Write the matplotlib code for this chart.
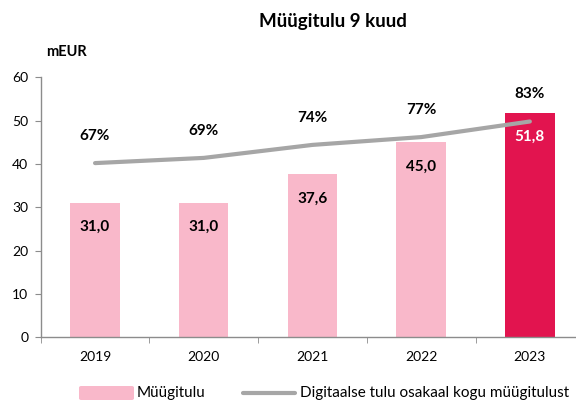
import matplotlib
matplotlib.use("Agg")
import matplotlib.pyplot as plt
from matplotlib.patches import FancyBboxPatch
from matplotlib.lines import Line2D

plt.rcParams['font.family'] = ['Lato', 'DejaVu Sans']

years = ["2019", "2020", "2021", "2022", "2023"]
revenue = [31.0, 31.0, 37.6, 45.0, 51.8]
digital_share = [67, 69, 74, 77, 83]
revenue_labels = ["31,0", "31,0", "37,6", "45,0", "51,8"]

pink = "#F9B8CA"
red = "#E2144F"
grey = "#A6A6A6"
axis_grey = "#8C8C8C"

W, H = 576, 401
fig = plt.figure(figsize=(5.76, 4.01), dpi=100)
ax = fig.add_axes([40.7 / W, 1 - 337.3 / H, 543.5 / W, 260 / H])
x = list(range(len(years)))
colors = [pink] * 4 + [red]
ax.bar(x, revenue, width=0.454, color=colors, zorder=2)
ax.set_xlim(-0.5, 4.5)
ax.set_ylim(0, 60)
ax.set_yticks(range(0, 61, 10))
ax.set_xticks(x)
ax.set_xticklabels(years)
ax.set_xticks([i - 0.5 for i in range(6)], minor=True)
ax.tick_params(axis='x', which='major', length=0, pad=10, labelsize=10)
ax.tick_params(axis='x', which='minor', length=4, color=axis_grey)
ax.tick_params(axis='y', length=4, color=axis_grey, labelsize=10, pad=5)
for s in ['top', 'right']:
    ax.spines[s].set_visible(False)
for s in ['left', 'bottom']:
    ax.spines[s].set_color(axis_grey)
    ax.spines[s].set_linewidth(1)

for i, (v, lab) in enumerate(zip(revenue, revenue_labels)):
    ax.annotate(lab, (i, v), xytext=(0, -17.5), textcoords='offset points',
                ha='center', va='center', fontsize=11, fontweight='bold',
                color='white' if i == 4 else 'black', zorder=4)

ax2 = ax.twinx()
ax2.set_ylim(0, 100)
ax2.axis('off')
ax2.plot(x, digital_share, color=grey, lw=3.0, solid_capstyle='round', zorder=3)
for i, p in enumerate(digital_share):
    ax2.annotate(f"{p}%", (i, p), xytext=(0, 19.5), textcoords='offset points',
                 ha='center', va='center', fontsize=11, fontweight='bold')

fig.text(332.5 / W, 1 - 21.7 / H, "Müügitulu 9 kuud", ha='center', va='center',
         fontsize=13.5, fontweight='bold')
fig.text(46 / W, 1 - 52 / H, "mEUR", ha='left', va='center', fontsize=10.5,
         fontweight='bold')

# legend
ly = 1 - 393 / H
fig.patches.append(FancyBboxPatch((79 / W, 1 - 400 / H), 55 / W, 14 / H,
                                  boxstyle="round,pad=0,rounding_size=0.004",
                                  transform=fig.transFigure, facecolor=pink,
                                  edgecolor='none'))
fig.text(137 / W, ly, "Müügitulu", ha='left', va='center', fontsize=11)
fig.lines.append(Line2D([243 / W, 295 / W], [ly, ly], transform=fig.transFigure,
                        color=grey, lw=3.0, solid_capstyle='round'))
fig.text(300 / W, ly, "Digitaalse tulu osakaal kogu müügitulust", ha='left',
         va='center', fontsize=11)

fig.savefig("out.png", dpi=100)
